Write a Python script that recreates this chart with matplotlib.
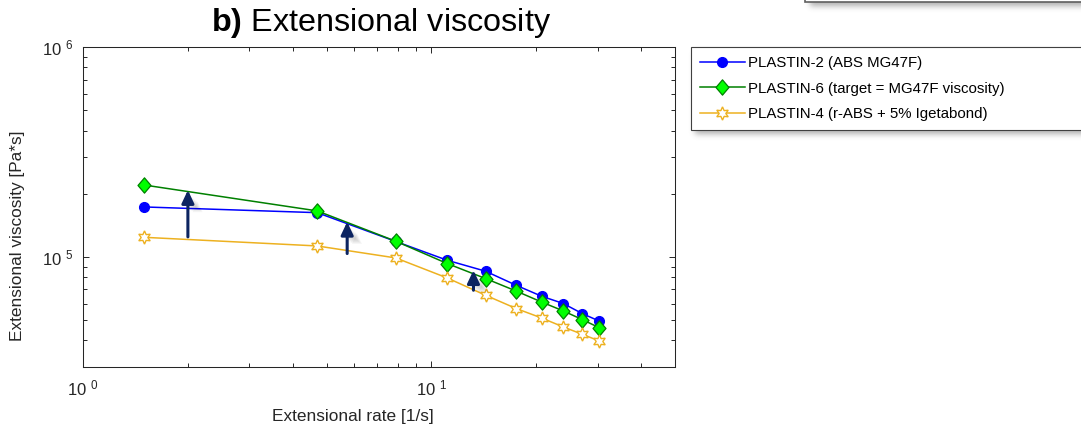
import numpy as np
import matplotlib
matplotlib.use("Agg")
import matplotlib.pyplot as plt
from matplotlib.path import Path
from matplotlib.patches import FancyArrowPatch, Rectangle
from matplotlib.ticker import LogLocator, FuncFormatter, NullFormatter
import matplotlib.patheffects as pe

plt.rcParams['font.family'] = ['Liberation Sans', 'DejaVu Sans']
plt.rcParams['mathtext.fontset'] = 'custom'
plt.rcParams['mathtext.rm'] = 'Liberation Sans'
plt.rcParams['mathtext.bf'] = 'Liberation Sans:bold'
plt.rcParams['mathtext.it'] = 'Liberation Sans:italic'

# ---- data -------------------------------------------------------------
rate = [1.5, 4.7, 7.9, 11.1, 14.3, 17.5, 20.7, 23.9, 27.1, 30.3]          # 1/s
plastin2 = [173000, 162500, 118500, 96400, 85500, 73300, 65000, 60000, 53700, 49500]
plastin6 = [220000, 165700, 118800, 93000, 78900, 68800, 61000, 55300, 50300, 46000]
plastin4 = [124000, 112800, 98900, 79400, 65700, 56800, 51200, 46400, 42800, 39800]
series_labels = ["PLASTIN-2 (ABS MG47F)",
                 "PLASTIN-6 (target = MG47F viscosity)",
                 "PLASTIN-4 (r-ABS + 5% Igetabond)"]

# arrows: viscosity increase from PLASTIN-4 towards PLASTIN-6
arrow_rate = [2.0, 5.73, 13.2]
arrow_start = [124600, 103800, 69400]
arrow_end = [208000, 146900, 86400]

# ---- figure -----------------------------------------------------------
W, H, DPI = 1081, 425, 100
fig = plt.figure(figsize=(W / DPI, H / DPI), dpi=DPI)
ax = fig.add_axes([83 / W, 1 - 366.7 / H, 592 / W, 319.7 / H])

blue = '#0000ff'
green_line = '#008000'
green_face = '#00ff00'
gold = '#EDB120'

diamond = Path([(0, 1), (0.85, 0), (0, -1), (-0.85, 0), (0, 1)],
               [Path.MOVETO, Path.LINETO, Path.LINETO, Path.LINETO, Path.CLOSEPOLY])

h2, = ax.plot(rate, plastin2, '-', color=blue, lw=1.1, marker='o', ms=7,
              mfc=blue, mec=blue, zorder=3)
h6, = ax.plot(rate, plastin6, '-', color=green_line, lw=1.1, marker=diamond, ms=11,
              mfc=green_face, mec=green_line, mew=0.9, zorder=4)
h4, = ax.plot(rate, plastin4, '-', color=gold, lw=1.1, marker=(6, 1, 0), ms=9.5,
              mfc='white', mec=gold, mew=1.0, zorder=4)

shadow_fx = [pe.SimplePatchShadow(offset=(o, -o * 0.8), shadow_rgbFace='k', alpha=0.04)
             for o in (2, 3, 4, 5, 6, 7)] + [pe.Normal()]
for xr, y0, y1 in zip(arrow_rate, arrow_start, arrow_end):
    arr = FancyArrowPatch((xr, y0), (xr, y1),
                          arrowstyle='-|>,head_length=0.55,head_width=0.26',
                          mutation_scale=14, lw=2.2, color='#0c2461',
                          shrinkA=0, shrinkB=0, zorder=6)
    arr.set_path_effects(shadow_fx)
    ax.add_patch(arr)

ax.set_xscale('log')
ax.set_yscale('log')
ax.set_xlim(1, 50)
ax.set_ylim(3e4, 1e6)

def pow10(v, pos):
    return "10 $^{%d}$" % int(round(np.log10(v)))

for axis in (ax.xaxis, ax.yaxis):
    axis.set_major_locator(LogLocator(base=10))
    axis.set_minor_locator(LogLocator(base=10, subs=np.arange(2, 10)))
    axis.set_major_formatter(FuncFormatter(pow10))
    axis.set_minor_formatter(NullFormatter())

ax.tick_params(which='both', direction='in', top=True, right=True,
               colors='#262626', width=0.7, labelsize=12)
ax.tick_params(which='major', length=4.3)
ax.tick_params(which='minor', length=2.9)
ax.tick_params(axis='x', pad=8.5)
ax.tick_params(axis='y', pad=7)
for s in ax.spines.values():
    s.set_color('#262626')
    s.set_linewidth(0.75)

fig.text(381.5 / W, 1 - 31 / H, r"$\mathbf{b)}$ Extensional viscosity",
         fontsize=23.3, ha='center', va='baseline', color='black')
fig.text(18 / W, 1 - 236 / H, "Extensional viscosity [Pa*s]", rotation=90,
         fontsize=12.4, ha='center', va='center', color='#262626')
fig.text(352.5 / W, 1 - 416 / H, "Extensional rate [1/s]",
         fontsize=12.4, ha='center', va='center', color='#262626')

leg = fig.legend([h2, h6, h4], series_labels, loc='upper left',
                 bbox_to_anchor=(690.5 / W, 1 - 47.3 / H, (1130 - 690.5) / W, 0),
                 mode='expand', borderaxespad=0, fontsize=10.8,
                 handlelength=3.0, handletextpad=0.2, borderpad=0.6,
                 labelspacing=0.75, fancybox=False, framealpha=1)
leg.get_frame().set_edgecolor('#404040')
leg.get_frame().set_linewidth(0.8)
leg.set_zorder(5)

# edge of a neighbouring panel box in the upper right corner
fig.add_artist(Rectangle((805 / W, 1 - 1.5 / H), (1200 - 805) / W, 0.2,
                         transform=fig.transFigure, fc='white', ec='#606060',
                         lw=1.2, zorder=3))

# soft drop shadows behind the boxes
fig.canvas.draw()
bb = leg.get_window_extent()
boxes = [(bb.x0 + 5, H - bb.y1 + 5, bb.x1 + 5, H - bb.y0 + 5),
         (810, -60, 1200, 6.5)]
m = 30
a = np.zeros((H + 2 * m, W + 2 * m))
for x0, y0, x1, y1 in boxes:
    r0, r1 = int(np.clip(y0 + m, 0, H + 2 * m)), int(np.clip(y1 + m, 0, H + 2 * m))
    c0, c1 = int(np.clip(x0 + m, 0, W + 2 * m)), int(np.clip(x1 + m, 0, W + 2 * m))
    a[r0:r1, c0:c1] = 1.0
sigma = 3.0
k = np.exp(-0.5 * (np.arange(-9, 10) / sigma) ** 2)
k /= k.sum()
a = np.apply_along_axis(lambda v: np.convolve(v, k, mode='same'), 0, a)
a = np.apply_along_axis(lambda v: np.convolve(v, k, mode='same'), 1, a)
a = a[m:m + H, m:m + W]
rgba = np.zeros((H, W, 4))
rgba[..., :3] = 0.3
rgba[..., 3] = a * 0.45
fig.figimage(rgba, origin='upper', zorder=0.5)

fig.savefig('out.png', dpi=DPI)
